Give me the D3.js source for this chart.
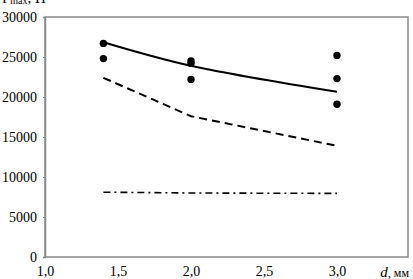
<!DOCTYPE html>
<html>
<head>
<meta charset="utf-8">
<script src="https://cdn.jsdelivr.net/npm/d3@7"></script>
<style>
  html, body { margin: 0; padding: 0; background: #fff; }
  svg { display: block; }
  text { font-family: "Liberation Serif", "Times New Roman", serif; fill: #000; }
</style>
</head>
<body>
<svg id="chart" width="413" height="279"></svg>
<script>
// ---- data ----
const xCategories = [1.4, 2.0, 3.0];
const expX = [1.4, 1.4, 2.0, 2.0, 2.0, 3.0, 3.0, 3.0];
const expY = [26700, 24800, 24500, 24200, 22200, 25200, 22300, 19100];
const solidY = [26850, 23900, 20650];
const dashedY = [22400, 17600, 13900];
const dashDotY = [8100, 8000, 7950];
const xTicks = [1.0, 1.5, 2.0, 2.5, 3.0];
const yTicks = [0, 5000, 10000, 15000, 20000, 25000, 30000];

// ---- layout ----
const svg = d3.select("#chart");
const mLeft = 45, mRight = 408, mTop = 17, mBottom = 257;
const x = d3.scaleLinear().domain([1, 3.5]).range([mLeft, 410]);
const y = d3.scaleLinear().domain([0, 30000]).range([mBottom, mTop]);
const axisColor = "#8a8a8a";

// frame
svg.append("rect")
  .attr("x", mLeft).attr("y", mTop)
  .attr("width", mRight - mLeft).attr("height", mBottom - mTop)
  .attr("fill", "none").attr("stroke", axisColor).attr("stroke-width", 1.5);

// y axis
const yAxis = svg.append("g").attr("transform", `translate(${mLeft},0)`)
  .call(d3.axisLeft(y).tickValues(yTicks).tickSize(2).tickPadding(6).tickFormat(d => String(d)));
yAxis.select(".domain").attr("stroke", axisColor).attr("stroke-width", 1.5);
yAxis.selectAll(".tick line").attr("stroke", axisColor);
yAxis.selectAll("text").style("font-family", "Liberation Serif").style("font-size", "14px").attr("fill", "#000");

// x axis
const xAxis = svg.append("g").attr("transform", `translate(0,${mBottom})`)
  .call(d3.axisBottom(x).tickValues(xTicks).tickSize(0).tickPadding(9)
    .tickFormat(d => d3.format(".1f")(d).replace(".", ",")));
xAxis.select(".domain").remove();
xAxis.selectAll("text").style("font-family", "Liberation Serif").style("font-size", "14px").attr("fill", "#000");

// axis titles
const yt = svg.append("text").attr("x", 2).attr("y", 3).style("font-size", "15px");
yt.append("tspan").text("F");
yt.append("tspan").attr("dy", 1).style("font-size", "10px").text("max");
yt.append("tspan").attr("dy", -1).text(", Н");

const xt = svg.append("text").attr("x", 409).attr("y", 277).attr("text-anchor", "end").style("font-size", "14px");
xt.append("tspan").style("font-style", "italic").style("font-size", "15px").text("d");
xt.append("tspan").style("font-size", "12px").text(", мм");

// lines
const mkLine = (ys, curve) => d3.line()
  .x((d, i) => x(xCategories[i]))
  .y(d => y(d))
  .curve(curve)(ys);

svg.append("path").attr("d", mkLine(solidY, d3.curveCatmullRom.alpha(0.5)))
  .attr("fill", "none").attr("stroke", "#000").attr("stroke-width", 2);
svg.append("path").attr("d", mkLine(dashedY, d3.curveLinear))
  .attr("fill", "none").attr("stroke", "#000").attr("stroke-width", 2)
  .attr("stroke-dasharray", "8,5");
svg.append("path").attr("d", mkLine(dashDotY, d3.curveLinear))
  .attr("fill", "none").attr("stroke", "#000").attr("stroke-width", 1.6)
  .attr("stroke-dasharray", "7,4,2,4");

// experimental points
svg.selectAll("circle.pt").data(expY).enter().append("circle")
  .attr("class", "pt")
  .attr("cx", (d, i) => x(expX[i]))
  .attr("cy", d => y(d))
  .attr("r", 3.7)
  .attr("fill", "#000");
</script>
</body>
</html>
